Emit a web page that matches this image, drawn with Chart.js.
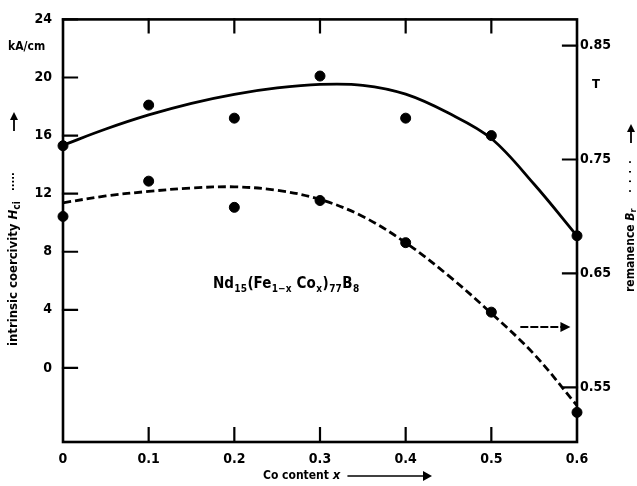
<!DOCTYPE html>
<html>
<head>
<meta charset="utf-8">
<script src="https://cdn.jsdelivr.net/npm/chart.js@4"></script>
<style>
html,body{margin:0;padding:0;background:#fff;}
#wrap{position:relative;width:637px;height:486px;}
</style>
</head>
<body>
<div id="wrap"><canvas id="c" width="637" height="486"></canvas></div>
<script>
// ---- data ----
const xValues = [0, 0.1, 0.2, 0.3, 0.4, 0.5, 0.6];
const coercivityPts = [15.3, 18.1, 17.2, 20.1, 17.2, 16.0, 9.1];          // kA/cm (left axis)
const remanencePts = [0.700, 0.731, 0.708, 0.714, 0.677, 0.616, 0.528];   // T (right axis)
const fitX = [0, 0.05, 0.1, 0.15, 0.2, 0.25, 0.3, 0.35, 0.4, 0.45, 0.5, 0.55, 0.6];
const coercivityFit = [15.34, 16.45, 17.42, 18.22, 18.84, 19.28, 19.52, 19.46, 18.85, 17.55, 15.80, 12.65, 9.10];
const remanenceFit = [0.712, 0.718, 0.722, 0.725, 0.726, 0.723, 0.715, 0.700, 0.677, 0.648, 0.615, 0.579, 0.534];
const xTicks = [0, 0.1, 0.2, 0.3, 0.4, 0.5, 0.6];
const leftTicks = [0, 4, 8, 12, 16, 20, 24];
const rightTicks = [0.55, 0.65, 0.75, 0.85];

const FONT = "'Liberation Sans Narrow','DejaVu Sans Condensed','Liberation Sans',Arial,sans-serif";
const pair = (xs, ys) => xs.map((x, i) => ({x: x, y: ys[i]}));

const framePlugin = {
  id: 'frame',
  afterDatasetsDraw(chart) {
    const ctx = chart.ctx, a = chart.chartArea;
    const sx = chart.scales.x, sl = chart.scales.y, sr = chart.scales.y2;
    ctx.save();
    ctx.strokeStyle = '#000';
    ctx.lineCap = 'square';
    // frame
    ctx.lineWidth = 2.6;
    ctx.strokeRect(a.left, a.top, a.right - a.left, a.bottom - a.top);
    ctx.lineWidth = 2.2;
    ctx.beginPath();
    // inward ticks
    leftTicks.forEach(v => { const y = sl.getPixelForValue(v); ctx.moveTo(a.left, y); ctx.lineTo(a.left + 14, y); });
    rightTicks.forEach(v => { const y = sr.getPixelForValue(v); ctx.moveTo(a.right, y); ctx.lineTo(a.right - 14, y); });
    xTicks.slice(1, -1).forEach(v => {
      const x = sx.getPixelForValue(v);
      ctx.moveTo(x, a.bottom); ctx.lineTo(x, a.bottom - 14);
      ctx.moveTo(x, a.top); ctx.lineTo(x, a.top + 13);
    });
    ctx.stroke();

    // annotation: composition
    ctx.fillStyle = '#000';
    const tx = sx.getPixelForValue(0.175), ty = sl.getPixelForValue(5.5);
    const parts = [
      ['Nd', 15, 0], ['15', 10, 4], ['(Fe', 15, 0], ['1\u2212x', 10, 4], [' Co', 15, 0], ['x', 10, 4], [')', 15, 0], ['77', 10, 4], ['B', 15, 0], ['8', 10, 4]
    ];
    let cx = tx;
    ctx.textBaseline = 'alphabetic';
    parts.forEach(p => {
      ctx.font = 'bold ' + p[1] + 'px ' + FONT;
      ctx.fillText(p[0], cx, ty + p[2]);
      cx += ctx.measureText(p[0]).width + 0.5;
    });

    // dashed arrow pointing to the right axis
    const ay = sr.getPixelForValue(0.603);
    const ax0 = sx.getPixelForValue(0.535), ax1 = sx.getPixelForValue(0.59);
    ctx.lineWidth = 2;
    ctx.setLineDash([6, 4]);
    ctx.beginPath(); ctx.moveTo(ax0, ay); ctx.lineTo(ax1 - 6, ay); ctx.stroke();
    ctx.setLineDash([]);
    ctx.beginPath(); ctx.moveTo(ax1 + 2, ay); ctx.lineTo(ax1 - 8, ay - 5); ctx.lineTo(ax1 - 8, ay + 5); ctx.closePath(); ctx.fill();

    // units
    ctx.font = 'bold 12px ' + FONT;
    ctx.textAlign = 'left'; ctx.textBaseline = 'middle';
    ctx.fillText('kA/cm', 8, 47);
    ctx.font = 'bold 13px ' + FONT;
    ctx.fillText('T', 592, 85);

    // x-axis title
    ctx.font = 'bold 12px ' + FONT;
    ctx.textBaseline = 'middle';
    let xx = 263;
    ctx.fillText('Co content ', xx, 476); xx += ctx.measureText('Co content ').width;
    ctx.font = 'italic bold 13px ' + FONT;
    ctx.fillText('x', xx, 476); xx += ctx.measureText('x').width + 8;
    ctx.lineWidth = 1.6;
    ctx.beginPath(); ctx.moveTo(xx, 476); ctx.lineTo(424, 476); ctx.stroke();
    ctx.beginPath(); ctx.moveTo(432, 476); ctx.lineTo(423, 471); ctx.lineTo(423, 481); ctx.closePath(); ctx.fill();

    // rotated axis titles
    function vtitle(cxp, baseY, segs, arrowTop) {
      ctx.save();
      ctx.translate(cxp, baseY);
      ctx.rotate(-Math.PI / 2);
      ctx.textBaseline = 'middle'; ctx.textAlign = 'left';
      let p = 0;
      segs.forEach(s => {
        ctx.font = s[1];
        ctx.fillText(s[0], p, s[2]);
        p += ctx.measureText(s[0]).width;
      });
      ctx.restore();
      // arrow up
      ctx.lineWidth = 1.8;
      ctx.beginPath(); ctx.moveTo(cxp, arrowTop + 18); ctx.lineTo(cxp, arrowTop + 6); ctx.stroke();
      ctx.beginPath(); ctx.moveTo(cxp, arrowTop); ctx.lineTo(cxp - 4, arrowTop + 8); ctx.lineTo(cxp + 4, arrowTop + 8); ctx.closePath(); ctx.fill();
    }
    vtitle(14, 346, [
      ['intrinsic coercivity ', 'bold 13px ' + FONT, 0],
      ['H', 'italic bold 13px ' + FONT, 0],
      ['ci', 'bold 10px ' + FONT, 3],
      ['   \u00b7\u00b7\u00b7\u00b7\u00b7', 'bold 11px ' + FONT, 0]
    ], 112);
    vtitle(631, 292, [
      ['remanence ', 'bold 12px ' + FONT, 0],
      ['B', 'italic bold 12px ' + FONT, 0],
      ['r', 'bold 9px ' + FONT, 3],
      ['     \u00b7  \u00b7  \u00b7  \u00b7', 'bold 10px ' + FONT, 0]
    ], 124);
    ctx.restore();
  }
};

new Chart(document.getElementById('c'), {
  type: 'line',
  data: {
    datasets: [
      { label: 'coercivity fit', data: pair(fitX, coercivityFit), yAxisID: 'y', borderColor: '#000', borderWidth: 2.8, pointRadius: 0, tension: 0.35, fill: false },
      { label: 'remanence fit', data: pair(fitX, remanenceFit), yAxisID: 'y2', borderColor: '#000', borderWidth: 2.8, borderDash: [8, 4], pointRadius: 0, tension: 0.35, fill: false },
      { label: 'coercivity', data: pair(xValues, coercivityPts), yAxisID: 'y', showLine: false, pointRadius: 5, pointBackgroundColor: '#000', pointBorderColor: '#000', borderColor: '#000' },
      { label: 'remanence', data: pair(xValues, remanencePts), yAxisID: 'y2', showLine: false, pointRadius: 5, pointBackgroundColor: '#000', pointBorderColor: '#000', borderColor: '#000' }
    ]
  },
  options: {
    responsive: false,
    animation: false,
    clip: false,
    layout: { padding: { top: 17, left: 0, right: 0, bottom: 0 } },
    plugins: { legend: { display: false }, tooltip: { enabled: false } },
    scales: {
      x: {
        type: 'linear', min: 0, max: 0.6,
        grid: { display: false, drawTicks: false }, border: { display: false },
        afterBuildTicks: s => { s.ticks = xTicks.map(v => ({ value: v })); },
        afterFit: s => { s.height = 44; },
        ticks: { color: '#000', padding: 9, font: { family: FONT, size: 14, weight: 'bold' }, maxRotation: 0, autoSkip: false,
          callback: v => v === 0 ? '0' : v.toFixed(1) }
      },
      y: {
        position: 'left', min: -5.1, max: 24,
        grid: { display: false, drawTicks: false }, border: { display: false },
        afterBuildTicks: s => { s.ticks = leftTicks.map(v => ({ value: v })); },
        afterFit: s => { s.width = 63; },
        ticks: { color: '#000', padding: 11, font: { family: FONT, size: 14, weight: 'bold' }, autoSkip: false }
      },
      y2: {
        position: 'right', min: 0.502, max: 0.873,
        grid: { display: false, drawTicks: false }, border: { display: false },
        afterBuildTicks: s => { s.ticks = rightTicks.map(v => ({ value: v })); },
        afterFit: s => { s.width = 60; },
        ticks: { color: '#000', padding: 3, font: { family: FONT, size: 14, weight: 'bold' }, autoSkip: false,
          callback: v => v.toFixed(2) }
      }
    }
  },
  plugins: [framePlugin]
});
</script>
</body>
</html>
